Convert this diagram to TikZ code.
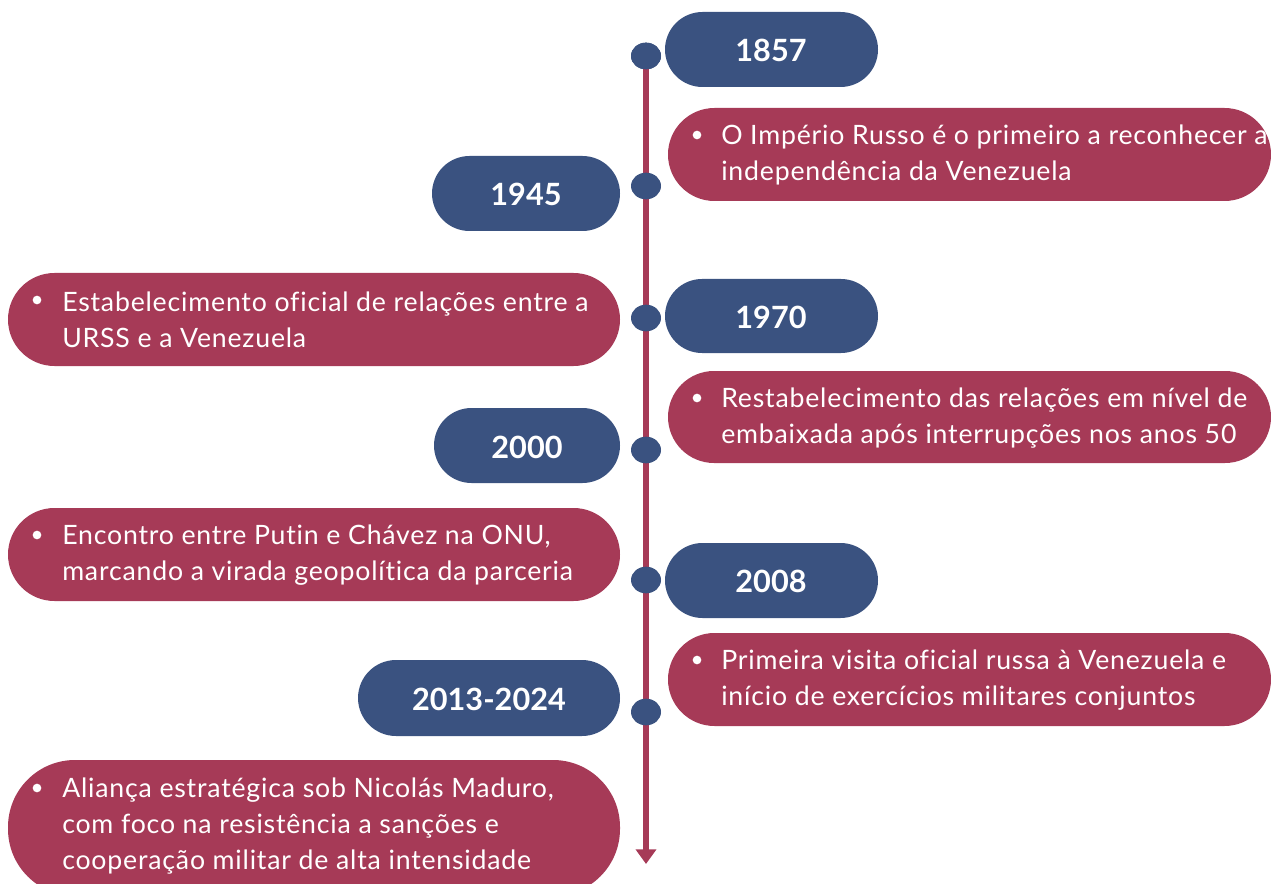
\documentclass[tikz,border=0pt]{standalone}
\usepackage{fontspec}
\setmainfont{Lato}
\newfontfamily\bodyfont[LetterSpace=3,Ligatures=NoCommon]{Lato}
\usetikzlibrary{arrows.meta,shapes.geometric}
\definecolor{tlblue}{HTML}{3A5280}
\definecolor{tlred}{HTML}{A63A57}
\tikzset{
  yearpill/.style={fill=tlblue},
  textpill/.style={fill=tlred},
  yeartext/.style={text=white, font=\fontsize{23}{27}\selectfont\bfseries},
  bodytext/.style={text=white, anchor=west, align=left, inner sep=0pt, font=\bodyfont\fontsize{20}{27}\selectfont},
  bulletdot/.style={circle, fill=white, inner sep=0pt, minimum size=6.5pt},
  tldot/.style={ellipse, fill=tlblue, inner sep=0pt, minimum width=22.5pt, minimum height=20pt},
  tlline/.style={draw=tlred, line width=3.8pt, -{Triangle[width=15pt,length=11pt]}},
}
\begin{document}
\begin{tikzpicture}[x=0.75pt,y=-0.75pt]
\useasboundingbox (0,0) rectangle (1271,884);
\begin{scope}
\clip (0,0) rectangle (1271,884);
% text pills
\fill[textpill, rounded corners=46.5*0.75pt] (668,108) rectangle (1271,201);
\fill[textpill, rounded corners=46.5*0.75pt] (8,273) rectangle (620,366);
\fill[textpill, rounded corners=46*0.75pt] (668,371) rectangle (1271,463);
\fill[textpill, rounded corners=46.5*0.75pt] (8,508) rectangle (620,601);
\fill[textpill, rounded corners=46.5*0.75pt] (668,633) rectangle (1271,726);
\fill[textpill, rounded corners=67*0.75pt] (8,760) rectangle (620,896);
\end{scope}
% year pills
\fill[yearpill, rounded corners=37.5*0.75pt] (665,12) rectangle (878,87);
\fill[yearpill, rounded corners=37.5*0.75pt] (432,156) rectangle (620,231);
\fill[yearpill, rounded corners=37*0.75pt] (665,279) rectangle (878,353);
\fill[yearpill, rounded corners=37.5*0.75pt] (434,408) rectangle (620,483);
\fill[yearpill, rounded corners=37.5*0.75pt] (665,543) rectangle (878,618);
\fill[yearpill, rounded corners=38*0.75pt] (358,660) rectangle (620,736);
% year labels
\node[yeartext] (y1857) at (771,50) {1857};
\node[yeartext] (y1945) at (526,194) {1945};
\node[yeartext] (y1970) at (771,317) {1970};
\node[yeartext] (y2000) at (527,447) {2000};
\node[yeartext] (y2008) at (771,581) {2008};
\node[yeartext] (y2013) at (489,699) {2013-2024};
% timeline
\node[tldot] (d1) at (646,56) {};
\coordinate (tlend) at (646,864);
\draw[tlline] (d1.center) -- (tlend);
\node[tldot] (d1b) at (646,56) {};
\node[tldot] (d2) at (646,186) {};
\node[tldot] (d3) at (646,318) {};
\node[tldot] (d4) at (646,450) {};
\node[tldot] (d5) at (646,580) {};
\node[tldot] (d6) at (646,712) {};
% body texts
\node[bulletdot] (b1) at (697,135) {};
\node[bodytext] (t1) at (721,155) {O Império Russo é o primeiro a reconhecer a\\independência da Venezuela};
\node[bulletdot] (b2) at (37,300) {};
\node[bodytext] (t2) at (62,320) {Estabelecimento oficial de relações entre a\\URSS e a Venezuela};
\node[bulletdot] (b3) at (697,398) {};
\node[bodytext] (t3) at (721,418) {Restabelecimento das relações em nível de\\embaixada após interrupções nos anos 50};
\node[bulletdot] (b4) at (37,535) {};
\node[bodytext] (t4) at (62,555) {Encontro entre Putin e Chávez na ONU,\\marcando a virada geopolítica da parceria};
\node[bulletdot] (b5) at (697,660) {};
\node[bodytext] (t5) at (721,680) {Primeira visita oficial russa à Venezuela e\\início de exercícios militares conjuntos};
\node[bulletdot] (b6) at (37,788) {};
\node[bodytext] (t6) at (62,826) {Aliança estratégica sob Nicolás Maduro,\\com foco na resistência a sanções e\\cooperação militar de alta intensidade};
\end{tikzpicture}
\end{document}
